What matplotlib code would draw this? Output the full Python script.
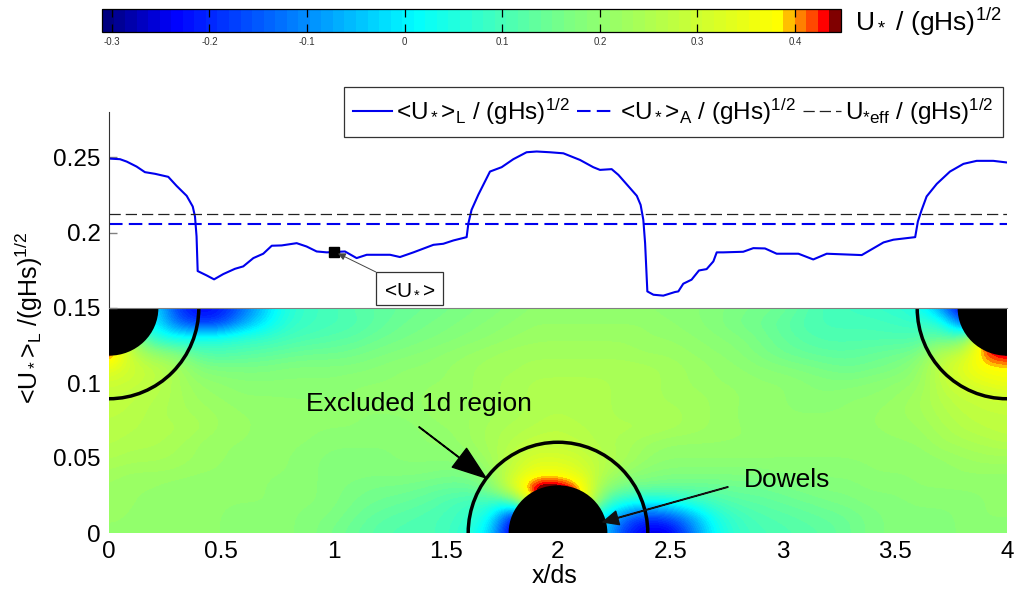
"""Dowel-array friction velocity: line-averaged profile above the surface map."""
import matplotlib
matplotlib.use("Agg")
import matplotlib.pyplot as plt
import numpy as np
from matplotlib.colors import LinearSegmentedColormap
from matplotlib.patches import Ellipse

plt.rcParams["font.family"] = ["Liberation Sans", "DejaVu Sans"]
plt.rcParams["mathtext.fontset"] = "custom"
plt.rcParams["mathtext.rm"] = "Liberation Sans"
plt.rcParams["mathtext.it"] = "Liberation Sans:italic"
plt.rcParams["mathtext.bf"] = "Liberation Sans:bold"
plt.rcParams["mathtext.default"] = "regular"

W, H = 1015, 591

# line-averaged profile
PROFILE_X = [0, .049, .079, .123, .160, .205, .264, .301, .346, .373, .383, .390, .395, .435, .468,
             .509, .561, .598, .643, .687, .725, .769, .836, .880, .925, .970, 1.051, 1.103, 1.148,
             1.252, 1.296, 1.356, 1.445, 1.489, 1.534, 1.593, 1.601, 1.615, 1.645, 1.697, 1.749,
             1.801, 1.860, 1.905, 1.964, 2.024, 2.098, 2.157, 2.187, 2.239, 2.269, 2.321, 2.351,
             2.368, 2.380, 2.388, 2.398, 2.425, 2.469, 2.521, 2.536, 2.558, 2.595, 2.628, 2.662,
             2.692, 2.707, 2.736, 2.825, 2.870, 2.922, 2.974, 3.071, 3.137, 3.197, 3.353, 3.450,
             3.494, 3.591, 3.603, 3.620, 3.642, 3.687, 3.746, 3.806, 3.865, 3.939, 4.0]
PROFILE_Y = [.2491, .2487, .2471, .2438, .2401, .2390, .2370, .2310, .2244, .2173, .2107, .1975,
             .1745, .1716, .1690, .1725, .1760, .1776, .1831, .1860, .1913, .1915, .1930, .1908,
             .1875, .1869, .1875, .1831, .1853, .1853, .1838, .1869, .1919, .1926, .1948, .1970,
             .2063, .2151, .2251, .2405, .2434, .2487, .2533, .2538, .2533, .2526, .2482, .2434,
             .2416, .2421, .2383, .2295, .2244, .2184, .2085, .1930, .1610, .1588, .1582, .1606,
             .1610, .1661, .1688, .1749, .1758, .1809, .1869, .1869, .1873, .1897, .1895, .1860,
             .1860, .1822, .1860, .1851, .1935, .1953, .1970, .2074, .2151, .2240, .2323, .2405,
             .2456, .2476, .2476, .2465]
U_AREA = 0.2058
U_EFF = 0.2122
MARKER_X, MARKER_Y = 1.0, 0.1872

# surface map in hundredths, top row is y=0.15, columns are x=0, 0.1 ... 4
# cells under the black dowels are never seen, they only steer the interpolation at the edges
FIELD = np.array([
    [  0,  0,  0,-18,-24,-22,-13, -3,  6,  9, 10, 12, 13, 14, 15, 16, 17, 18, 19, 20, 20, 20, 20, 20, 20, 19, 19, 18, 17, 16, 15, 12, 10,  9,  8,  7,  5, -8,-28,-30,-30],
    [  0,  0,  2,-14,-20,-18, -8,  0,  7,  9, 10, 11, 13, 15, 16, 17, 18, 19, 20, 21, 21, 21, 21, 21, 21, 20, 19, 18, 16, 15, 13, 11, 10, 10, 10,  9,  8,  8,-15,-20,-20],
    [ 47, 20,  6,  3,  4,  5,  7,  8, 10, 11, 12, 13, 15, 16, 17, 18, 19, 20, 21, 22, 22, 22, 22, 22, 21, 21, 20, 19, 18, 16, 14, 12, 11, 11, 11, 11, 11, 14, 12, 46, 47],
    [ 46, 28, 20, 18, 12, 11, 12, 13, 14, 15, 15, 16, 17, 18, 19, 20, 21, 22, 23, 23, 23, 23, 23, 23, 22, 22, 21, 20, 19, 17, 15, 14, 13, 13, 14, 15, 16, 26, 28, 43, 46],
    [ 35, 30, 28, 24, 18, 17, 17, 17, 18, 18, 18, 18, 19, 20, 20, 21, 22, 23, 23, 24, 24, 24, 24, 24, 24, 23, 22, 21, 20, 19, 18, 17, 16, 15, 16, 17, 20, 28, 34, 38, 38],
    [ 30, 29, 27, 24, 21, 20, 19, 19, 19, 19, 19, 20, 20, 20, 21, 21, 22, 23, 24, 25, 25, 25, 25, 24, 24, 23, 22, 21, 21, 20, 20, 19, 18, 18, 19, 20, 21, 27, 31, 34, 36],
    [ 28, 27, 26, 24, 22, 21, 20, 20, 20, 20, 20, 20, 20, 21, 21, 22, 22, 23, 24, 25, 25, 25, 25, 24, 24, 23, 23, 22, 21, 21, 20, 19, 19, 20, 20, 21, 23, 26, 28, 29, 30],
    [ 27, 27, 25, 24, 23, 22, 21, 21, 20, 20, 20, 20, 20, 20, 21, 22, 22, 23, 24, 25, 26, 25, 25, 24, 24, 24, 23, 22, 21, 20, 20, 20, 20, 20, 21, 22, 23, 25, 27, 28, 28],
    [ 27, 26, 25, 25, 24, 22, 21, 21, 20, 20, 20, 20, 19, 19, 20, 21, 22, 24, 25, 26, 27, 26, 25, 25, 25, 24, 23, 22, 21, 21, 20, 20, 20, 21, 21, 21, 22, 24, 26, 27, 28],
    [ 26, 25, 25, 24, 22, 21, 21, 21, 20, 20, 19, 19, 19, 19, 20, 20, 22, 24, 26, 28, 28, 27, 25, 24, 22, 21, 21, 21, 21, 21, 20, 20, 20, 20, 21, 21, 21, 23, 24, 25, 26],
    [ 25, 24, 24, 23, 22, 21, 21, 20, 20, 19, 18, 18, 18, 19, 19, 19, 20, 23, 28, 32, 32, 30, 26, 24, 21, 20, 20, 20, 20, 20, 20, 20, 20, 20, 20, 20, 20, 21, 22, 23, 23],
    [ 23, 22, 22, 22, 21, 21, 20, 20, 20, 19, 18, 18, 18, 18, 18, 17, 17, 21, 30, 36, 36, 33, 26, 21, 19, 18, 18, 18, 18, 18, 19, 19, 19, 19, 20, 20, 20, 20, 21, 21, 21],
    [ 22, 21, 21, 20, 20, 20, 20, 20, 19, 19, 18, 17, 16, 16, 15, 14, 14, 17, 34, 48, 48, 42, 20, 15, 15, 14, 14, 14, 15, 15, 16, 17, 18, 18, 19, 19, 20, 20, 20, 20, 20],
    [ 22, 21, 21, 20, 20, 20, 20, 20, 19, 19, 18, 16, 15, 14, 13, 11,  9,  8,  5, 46, 46, 46, 10,  3,  0,  2,  6, 10, 12, 13, 14, 15, 16, 17, 18, 18, 19, 19, 19, 20, 20],
    [ 21, 21, 20, 20, 20, 20, 19, 19, 19, 18, 17, 15, 13, 12, 11, 10,  8,  2,-25,-30,  0,  0,  0,-15,-20,-17, -8,  4,  9, 11, 12, 13, 14, 15, 17, 18, 18, 18, 19, 20, 20],
    [ 21, 21, 20, 20, 20, 20, 19, 19, 19, 18, 16, 14, 12, 11, 11, 10,  6, -2,-30,-30,  0,  0, -2,-20,-26,-26,-12,  2,  8, 10, 11, 12, 13, 15, 17, 18, 18, 18, 19, 19, 19],
]) / 100.0

DOWEL_X = [0.0, 2.0, 4.0]
DOWEL_Y = [0.15, 0.0, 0.15]
DOWEL_RX, DOWEL_RY = 0.22, 0.0318
EXCLUDED_RX, EXCLUDED_RY = 0.4, 0.0605

X_TICKS = [0, 0.5, 1, 1.5, 2, 2.5, 3, 3.5, 4]
X_LABELS = ["0", "0.5", "1", "1.5", "2", "2.5", "3", "3.5", "4"]
Y_TICKS_LOW = [0, 0.05, 0.1, 0.15]
Y_LABELS_LOW = ["0", "0.05", "0.1", "0.15"]
Y_TICKS_TOP = [0.15, 0.2, 0.25]
Y_LABELS_TOP = ["", "0.2", "0.25"]
CBAR_TICKS = [-0.3, -0.2, -0.1, 0, 0.1, 0.2, 0.3, 0.4]
CBAR_LABELS = ["-0.3", "-0.2", "-0.1", "0", "0.1", "0.2", "0.3", "0.4"]
VMIN, VMAX = -0.31, 0.447

# jet-like, stretched by hand so yellow lands near 0.38 and the reds get one band each
CMAP = LinearSegmentedColormap.from_list("dowel_jet", [
    (0.0, (0, 0, 0.5)),
    (0.0925, (0, 0, 1)),
    (0.4227, (0, 1, 1)),
    (0.64, (0.5, 1, 0.5)),
    (0.9206, (1, 1, 0)),
    (0.9365, (1, 0.75, 0)),
    (0.9524, (1, 0.5, 0)),
    (0.9683, (1, 0.28, 0)),
    (0.9841, (1, 0, 0)),
    (1.0, (0.5, 0, 0)),
], N=64)


def px_axes(fig, left, top, right, bottom):
    return fig.add_axes([left / W, 1 - bottom / H, (right - left) / W, (bottom - top) / H])


fig = plt.figure(figsize=(W / 100, H / 100), dpi=100, facecolor="white")

# surface map
ax_map = px_axes(fig, 109, 308, 1007, 533)
im = ax_map.imshow(FIELD, extent=[-0.05, 4.05, -0.005, 0.155], origin="upper", aspect="auto",
                   cmap=CMAP, vmin=VMIN, vmax=VMAX, interpolation="bicubic")
ax_map.set_xlim(0, 4)
ax_map.set_ylim(0, 0.15)
for cx, cy in zip(DOWEL_X, DOWEL_Y):
    ax_map.add_patch(Ellipse((cx, cy), 2 * DOWEL_RX, 2 * DOWEL_RY, fc="black", ec="none", zorder=3))
    ax_map.add_patch(Ellipse((cx, cy), 2 * EXCLUDED_RX, 2 * EXCLUDED_RY, fc="none", ec="black",
                             lw=2.5, zorder=4))
for s in ax_map.spines.values():
    s.set_visible(False)
ax_map.set_xticks(X_TICKS, X_LABELS)
ax_map.set_yticks(Y_TICKS_LOW, Y_LABELS_LOW)
ax_map.tick_params(length=0, labelsize=17.5, pad=6)

ax_map.text(0.8775, 0.086, "Excluded 1d region", fontsize=19, va="center", ha="left")
ax_map.annotate("", xy=(1.679, 0.0367), xytext=(1.381, 0.0707),
                arrowprops=dict(width=0.4, headwidth=17, headlength=24, shrink=0, fc="black", ec="black"))
ax_map.text(2.83, 0.0353, "Dowels", fontsize=19, va="center", ha="left")
ax_map.annotate("", xy=(2.2, 0.0073), xytext=(2.757, 0.0307), zorder=6,
                arrowprops=dict(width=0.4, headwidth=10, headlength=11, shrink=0, fc="#111111", ec="#111111"))

# line profile
ax_line = px_axes(fig, 109, 112, 1007, 308)
ax_line.patch.set_alpha(0)
line_l, = ax_line.plot(PROFILE_X, PROFILE_Y, color="#0000ee", lw=1.5,
                       label=r"<U$_*$>$_L$ / (gHs)$^{1/2}$")
line_a = ax_line.axhline(U_AREA, color="#0000ee", lw=1.5, dashes=(6.5, 3),
                         label=r"<U$_*$>$_A$ / (gHs)$^{1/2}$")
line_e = ax_line.axhline(U_EFF, color="#222222", lw=0.9, dashes=(9, 4),
                         label=r"U$_{*eff}$ / (gHs)$^{1/2}$")
ax_line.plot([MARKER_X], [MARKER_Y], "s", color="black", ms=6.5)
ax_line.set_xlim(0, 4)
ax_line.set_ylim(0.15, 0.28)
for side in ("top", "right"):
    ax_line.spines[side].set_visible(False)
ax_line.spines["bottom"].set_color("#808080")
ax_line.spines["left"].set_color("#333333")
ax_line.spines["left"].set_linewidth(0.8)
ax_line.set_xticks([])
ax_line.set_yticks(Y_TICKS_TOP, Y_LABELS_TOP)
ax_line.tick_params(axis="y", direction="in", length=6, width=1, color="#808080", labelsize=17.5, pad=6)

ax_line.annotate(r"<U$_*$>", xy=(MARKER_X + 0.02, MARKER_Y - 0.001), xytext=(1.338, 0.163),
                 fontsize=15, ha="center", va="center",
                 bbox=dict(boxstyle="square,pad=0.35", fc="white", ec="#333333", lw=0.9),
                 arrowprops=dict(arrowstyle="-|>", color="#444444", lw=0.7, shrinkA=0, shrinkB=0,
                                 mutation_scale=11))

leg = ax_line.legend(handles=[line_l, line_a, line_e], ncol=3, loc="center",
                     bbox_to_anchor=(673.5 / W, 1 - 112 / H), bbox_transform=fig.transFigure,
                     fontsize=17.5, frameon=True, fancybox=False, edgecolor="#333333", framealpha=1,
                     columnspacing=0.3, handlelength=1.6, handletextpad=0.15, borderpad=0.4,
                     borderaxespad=0)
leg.get_frame().set_linewidth(0.9)

# colour bar
cax = px_axes(fig, 102, 9, 841, 32)
cb = fig.colorbar(im, cax=cax, orientation="horizontal", ticks=CBAR_TICKS)
cb.set_ticklabels(CBAR_LABELS)
cb.outline.set_linewidth(0.9)
cax.xaxis.set_ticks_position("both")
cax.tick_params(axis="x", direction="in", length=5.5, width=0.9, color="black",
                labelsize=7, labelcolor="#333333", pad=3.5)

fig.text(855 / W, 1 - 22 / H, r"U$_*$ / (gHs)$^{1/2}$", fontsize=19, va="center", ha="left")
fig.text(555 / W, 1 - 576 / H, "x/ds", fontsize=18, va="center", ha="center")
fig.text(29 / W, 1 - 318 / H, r"<U$_*$>$_L$ /(gHs)$^{1/2}$", fontsize=18, rotation=90,
         va="center", ha="center")

fig.savefig("out.png", dpi=100, facecolor="white")
plt.close(fig)
